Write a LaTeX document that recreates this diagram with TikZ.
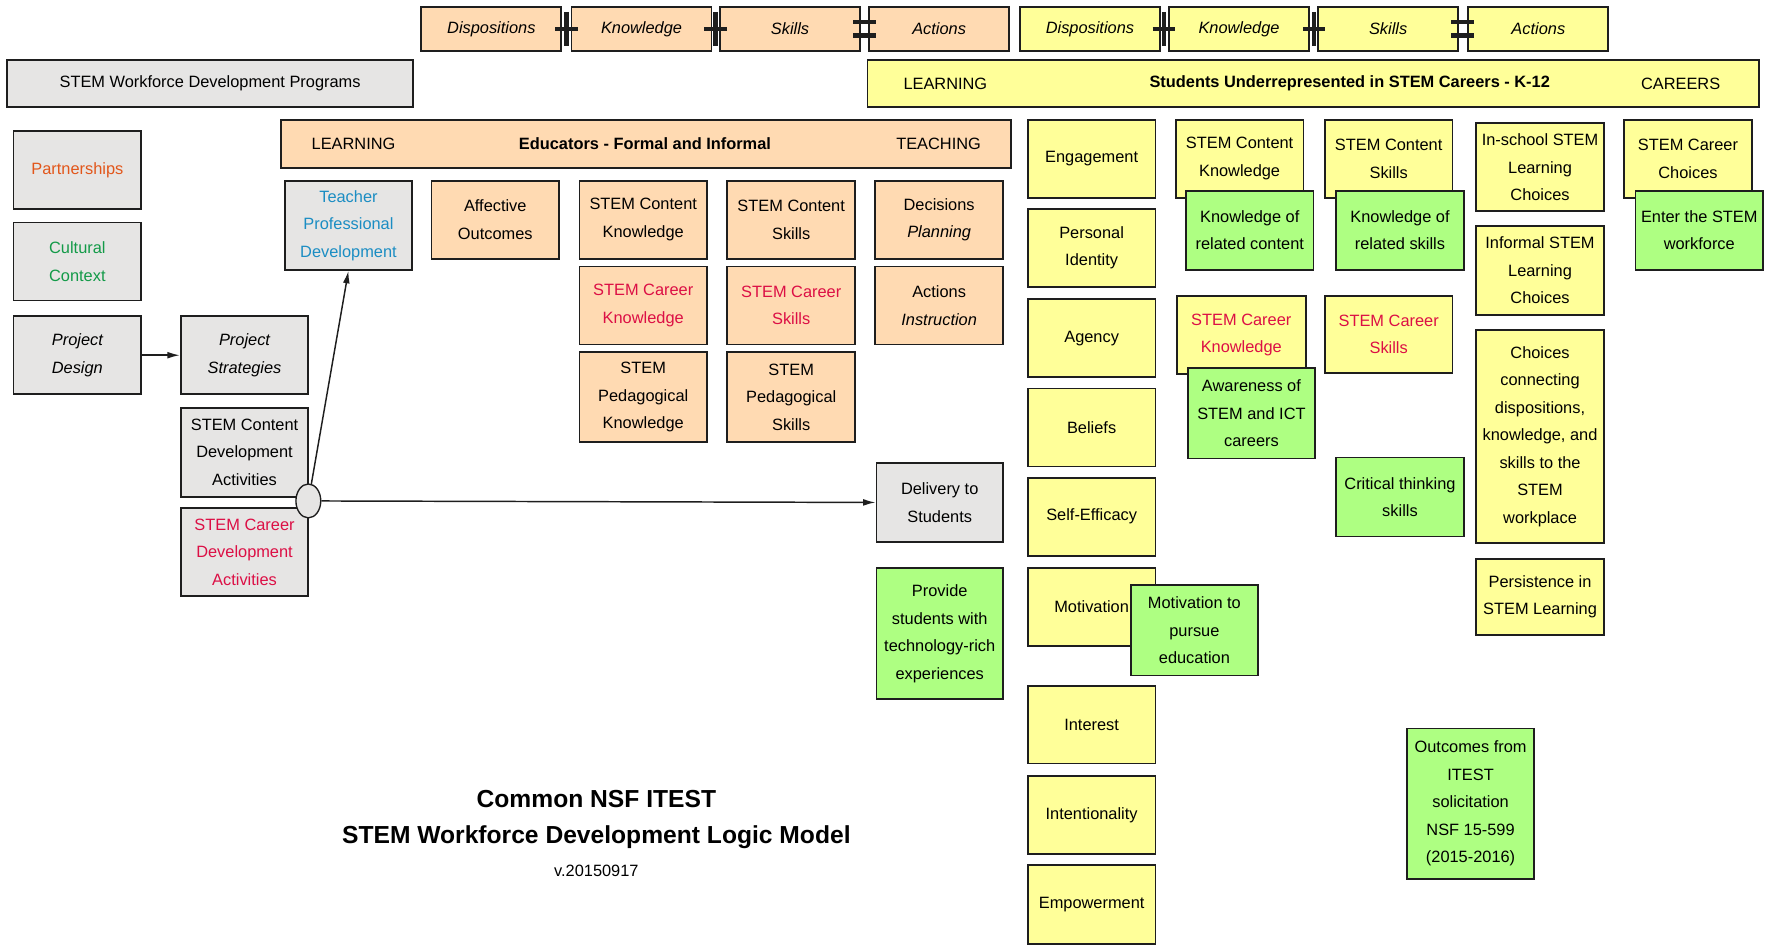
\documentclass[tikz,border=0pt]{standalone}
\usepackage{fontspec}
\setmainfont{Liberation Sans}
\usetikzlibrary{arrows.meta,shapes.geometric}
\definecolor{peach}{HTML}{FFDAB2}
\definecolor{yel}{HTML}{FFFF99}
\definecolor{grn}{HTML}{AEFF82}
\definecolor{gry}{HTML}{E6E5E4}
\definecolor{edge}{HTML}{1E1E1E}
\definecolor{txtorange}{HTML}{E2561A}
\definecolor{txtgreen}{HTML}{139A48}
\definecolor{txtblue}{HTML}{1B8DC3}
\definecolor{txtred}{HTML}{DC0F45}
\def\plusop(#1,#2){\draw[line width=3.8pt,edge] (#1-10,#2)--(#1+10,#2) (#1,#2-15)--(#1,#2+15);}
\def\eqop(#1,#2){\draw[line width=3.8pt,edge] (#1-10,#2-6)--(#1+10,#2-6) (#1-10,#2+6)--(#1+10,#2+6);}
\tikzset{
  bx/.style 2 args={draw=edge,line width=1.6pt,minimum width=#1,minimum height=#2,inner sep=0pt,align=center},
  cell/.style={bx={113}{69}},
  tallcell/.style={bx={113}{79}},
  arr/.style={line width=1.3pt,edge,-{Latex[length=11pt,width=6pt]}}
}
\begin{document}
\begin{tikzpicture}[x=1pt,y=-1pt,font=\fontsize{14.5}{24.3}\selectfont]
	\useasboundingbox (0,0) rectangle (1568,836);
	
	%TOP EQUATIONS
	\node[bx={124}{39},fill=peach] (pdisp) at (435,25.5) {\itshape Dispositions};
	\node[bx={124}{39},fill=peach] (pknow) at (568,25.5) {\itshape Knowledge};
	\node[bx={124}{39},fill=peach] (pskil) at (699.5,25.5) {\itshape Skills};
	\node[bx={124}{39},fill=peach] (pact) at (831.5,25.5) {\itshape Actions};
	\plusop(501.5,25.5)
	\plusop(633.5,25.5)
	\eqop(765.5,25.5)
	%
	\node[bx={124}{39},fill=yel] (ydisp) at (965,25.5) {\itshape Dispositions};
	\node[bx={124}{39},fill=yel] (yknow) at (1097,25.5) {\itshape Knowledge};
	\node[bx={124}{39},fill=yel] (yskil) at (1229,25.5) {\itshape Skills};
	\node[bx={124}{39},fill=yel] (yact) at (1362,25.5) {\itshape Actions};
	\plusop(1030.5,25.5)
	\plusop(1163.5,25.5)
	\eqop(1295,25.5)
	
	%BARS
	\node[bx={360}{42},fill=gry] (wdp) at (186,74) {STEM Workforce Development Programs};
	\node[bx={789}{42},fill=yel] (stubar) at (1162.5,74) {};
	\node (stulearn) at (837,74) {LEARNING};
	\node (stutitle) at (1195,74) {\bfseries Students Underrepresented in STEM Careers - K-12};
	\node (stucar) at (1488,74) {CAREERS};
	%
	\node[bx={646}{43},fill=peach] (edubar) at (572,127.5) {};
	\node (edulearn) at (313,127.5) {LEARNING};
	\node (edutitle) at (571,127.5) {\bfseries Educators - Formal and Informal};
	\node (eduteach) at (831,127.5) {TEACHING};
	
	%PROGRAM COLUMN
	\node[cell,fill=gry,text=txtorange] (part) at (68.5,150.5) {Partnerships};
	\node[cell,fill=gry,text=txtgreen] (cult) at (68.5,231.5) {Cultural\\Context};
	\node[cell,fill=gry] (pdes) at (68.5,314.5) {\itshape Project\\\itshape Design};
	\node[cell,fill=gry] (pstr) at (216.5,314.5) {\itshape Project\\\itshape Strategies};
	\node[tallcell,fill=gry] (scda) at (216.5,400.5) {STEM Content\\Development\\Activities};
	\node[bx={113}{78},fill=gry,text=txtred] (scar) at (216.5,489) {STEM Career\\Development\\Activities};
	\node[draw=edge,line width=1.2pt,fill=gry,ellipse,minimum width=22,minimum height=30,inner sep=0pt] (hub) at (273,443.5) {};
	
	%EDUCATOR COLUMN
	\node[tallcell,fill=gry,text=txtblue] (tpd) at (308.5,199.5) {Teacher\\Professional\\Development};
	\node[cell,fill=peach] (aff) at (438.5,194.5) {Affective\\Outcomes};
	\node[cell,fill=peach] (eck) at (569.5,194.5) {STEM Content\\Knowledge};
	\node[cell,fill=peach] (ecs) at (700.5,194.5) {STEM Content\\Skills};
	\node[cell,fill=peach] (dec) at (831.5,194.5) {Decisions\\\itshape Planning};
	\node[cell,fill=peach,text=txtred] (ecrk) at (569.5,270.5) {STEM Career\\Knowledge};
	\node[cell,fill=peach,text=txtred] (ecrs) at (700.5,270.5) {STEM Career\\Skills};
	\node[cell,fill=peach] (act) at (831.5,270.5) {Actions\\\itshape Instruction};
	\node[tallcell,fill=peach] (epk) at (569.5,351.5) {STEM\\Pedagogical\\Knowledge};
	\node[tallcell,fill=peach] (eps) at (700.5,351.5) {STEM\\Pedagogical\\Skills};
	\node[bx={112}{70},fill=gry] (deliv) at (832,445) {Delivery to\\Students};
	\node[bx={112}{116},fill=grn] (prov) at (832,561) {Provide\\students with\\technology-rich\\experiences};
	
	%CONNECTORS
	\draw[arr] (pdes) -- (pstr);
	\draw[arr] (hub.80) -- (tpd.south);
	\draw[arr] (hub) -- (deliv);
	
	%DISPOSITIONS
	\node[cell,fill=yel] (eng) at (966.5,140.5) {Engagement};
	\node[cell,fill=yel] (pid) at (966.5,219.5) {Personal\\Identity};
	\node[cell,fill=yel] (agc) at (966.5,299.5) {Agency};
	\node[cell,fill=yel] (bel) at (966.5,378.5) {Beliefs};
	\node[cell,fill=yel] (sef) at (966.5,457.5) {Self-Efficacy};
	\node[cell,fill=yel] (mot) at (966.5,537.5) {Motivation};
	\node[cell,fill=yel] (intr) at (966.5,641.5) {Interest};
	\node[cell,fill=yel] (intl) at (966.5,721.5) {Intentionality};
	\node[bx={113}{70},fill=yel] (emp) at (966.5,801) {Empowerment};
	\node[bx={113}{80},fill=grn] (motp) at (1057.5,558) {Motivation to\\pursue\\education};
	
	%KNOWLEDGE
	\node[cell,fill=yel] (sck) at (1097.5,140.5) {STEM Content\\Knowledge};
	\node[bx={113}{70},fill=grn] (krc) at (1106.5,204) {Knowledge of\\related content};
	\node[bx={114}{69},fill=yel,text=txtred] (sckn) at (1099,296.5) {STEM Career\\Knowledge};
	\node[bx={112}{80},fill=grn] (aware) at (1108,366) {Awareness of\\STEM and ICT\\careers};
	
	%SKILLS
	\node[cell,fill=yel] (scs) at (1229.5,140.5) {STEM Content\\Skills};
	\node[bx={113}{70},fill=grn] (krs) at (1239.5,204) {Knowledge of\\related skills};
	\node[bx={113}{68},fill=yel,text=txtred] (scsk) at (1229.5,296) {STEM Career\\Skills};
	\node[bx={113}{70},fill=grn] (crit) at (1239.5,440) {Critical thinking\\skills};
	
	%ACTIONS
	\node[bx={113}{78},fill=yel] (insch) at (1363.5,148) {In-school STEM\\Learning\\Choices};
	\node[tallcell,fill=yel] (infor) at (1363.5,239.5) {Informal STEM\\Learning\\Choices};
	\node[bx={113}{189},fill=yel] (chc) at (1363.5,386.5) {Choices\\connecting\\dispositions,\\knowledge, and\\skills to the\\STEM\\workplace};
	\node[bx={113}{67},fill=yel] (pers) at (1363.5,528.5) {Persistence in\\STEM Learning};
	
	%CAREERS
	\node[cell,fill=yel] (scc) at (1494.5,140.5) {STEM Career\\Choices};
	\node[bx={113}{70},fill=grn] (ent) at (1504.5,204) {Enter the STEM\\workforce};
	%
	\node[bx={112}{133},fill=grn] (outc) at (1302,711.5) {Outcomes from\\ITEST\\solicitation\\NSF 15-599\\(2015-2016)};
	
	%TITLE
	\node[font=\fontsize{21.8}{26}\selectfont\bfseries] (title1) at (528,707) {Common NSF ITEST};
	\node[font=\fontsize{21.8}{26}\selectfont\bfseries] (title2) at (528,741) {STEM Workforce Development Logic Model};
	\node (version) at (528,771) {v.20150917};
\end{tikzpicture}
\end{document}
